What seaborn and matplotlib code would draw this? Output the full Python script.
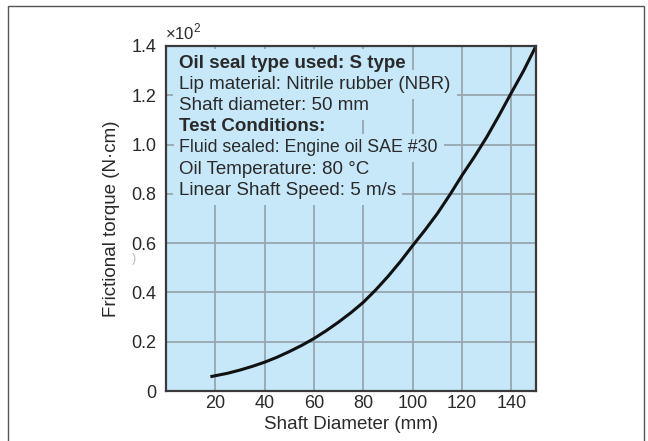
import matplotlib
matplotlib.use("Agg")
import matplotlib.pyplot as plt
import seaborn as sns
import pandas as pd
from matplotlib.patches import Rectangle

# Data
shaft_diameter = [18, 20, 25, 30, 35, 40, 45, 50, 55, 60, 65, 70, 75, 80, 85, 90,
                  95, 100, 105, 110, 115, 120, 125, 130, 135, 140, 145, 150]
torque = [0.058, 0.062, 0.072, 0.085, 0.100, 0.117, 0.137, 0.160, 0.185, 0.213,
          0.245, 0.280, 0.318, 0.360, 0.410, 0.465, 0.525, 0.590, 0.653, 0.720,
          0.795, 0.875, 0.950, 1.030, 1.118, 1.210, 1.300, 1.400]
x_ticks = [20, 40, 60, 80, 100, 120, 140]
y_ticks = [0, 0.2, 0.4, 0.6, 0.8, 1.0, 1.2, 1.4]
y_tick_labels = ["0", "0.2", "0.4", "0.6", "0.8", "1.0", "1.2", "1.4"]
info_lines = [
    ("Oil seal type used: S type", "bold"),
    ("Lip material: Nitrile rubber (NBR)", "normal"),
    ("Shaft diameter: 50 mm", "normal"),
    ("Test Conditions:", "bold"),
    ("Fluid sealed: Engine oil SAE #30", "normal"),
    ("Oil Temperature: 80 °C", "normal"),
    ("Linear Shaft Speed: 5 m/s", "normal"),
]

df = pd.DataFrame({"Shaft Diameter (mm)": shaft_diameter, "Torque": torque})

sns.set_theme(style="white")
plt.rcParams["font.family"] = ["Liberation Sans", "DejaVu Sans"]
plt.rcParams["mathtext.fontset"] = "custom"
plt.rcParams["mathtext.rm"] = "Liberation Sans"

BG = "#c6e8f8"
GRID = "#98a6ae"
TXT = "#2a2a2a"

fig = plt.figure(figsize=(6.48, 4.41), dpi=100)
ax = fig.add_axes([166 / 648, 1 - 391 / 441, 370 / 648, 345 / 441])
ax.set_facecolor(BG)

sns.lineplot(data=df, x="Shaft Diameter (mm)", y="Torque", ax=ax,
             color="#111111", linewidth=2.2, zorder=4,
             solid_joinstyle="round", solid_capstyle="butt")

ax.set_xlim(0, 150)
ax.set_ylim(0, 1.4)
ax.set_xticks(x_ticks)
ax.set_yticks(y_ticks)
ax.set_yticklabels(y_tick_labels)
ax.grid(True, color=GRID, linewidth=1.3, zorder=1)
ax.set_axisbelow(True)
ax.tick_params(axis="y", length=6, width=1, color=GRID, labelsize=13, labelcolor=TXT, pad=1)
ax.tick_params(axis="x", length=0, labelsize=13, labelcolor=TXT, pad=3)
for t, v in zip(ax.yaxis.get_major_ticks(), y_ticks):
    if v not in (0.8, 1.0, 1.2):
        t.tick1line.set_visible(False)
for s in ax.spines.values():
    s.set_color("#3a3a3a")
    s.set_linewidth(1.6)
    s.set_zorder(5)

ax.set_xlabel("Shaft Diameter (mm)", fontsize=13.5, color=TXT, labelpad=3)
ax.set_ylabel("Frictional torque (N·cm)", fontsize=13.5, color=TXT, labelpad=8)

ax.text(-0.004, 1.02, r"×10$^{\mathregular{2}}$", transform=ax.transAxes, fontsize=12,
        color=TXT, ha="left", va="baseline")
fig.text(134 / 648, 1 - 259 / 441, ")", fontsize=9, color="#bbbbbb",
         ha="center", va="center")

y0 = 1 - (63 - 46) / 345
step = 21.2 / 345
for i, (line, w) in enumerate(info_lines):
    fs = 13.5 if i != 4 else 12.8
    # background patch behind each line (hides the grid), drawn first
    ax.text(0.036, y0 - i * step, line, transform=ax.transAxes, fontsize=fs,
            fontweight=w, color=(0, 0, 0, 0), ha="left", va="center", zorder=2,
            bbox=dict(boxstyle="square,pad=0.32", facecolor=BG, edgecolor="none"))
for i, (line, w) in enumerate(info_lines):
    fs = 13.5 if i != 4 else 12.8
    ax.text(0.036, y0 - i * step, line, transform=ax.transAxes, fontsize=fs,
            fontweight=w, color=TXT, ha="left", va="center", zorder=3)

fig.patches.append(Rectangle((8 / 648, -0.05), 636 / 648, 1 - 6 / 441 + 0.05,
                             transform=fig.transFigure, fill=False,
                             edgecolor="#555555", linewidth=1.0))

fig.savefig("out.png", dpi=100)
